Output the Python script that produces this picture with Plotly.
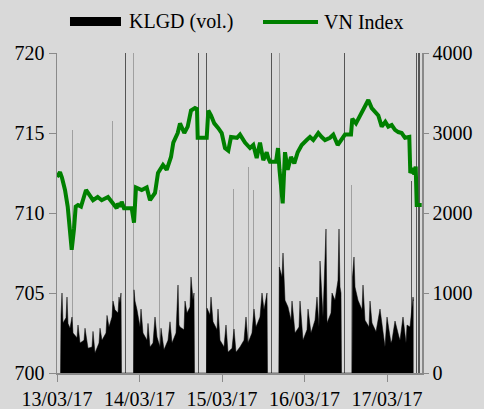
import plotly.graph_objects as go

# ---- Data (time index: one unit per intraday sample slot) ----
tick_labels = ["13/03/17", "14/03/17", "15/03/17", "16/03/17", "17/03/17"]
tick_pos = [0, 82.5, 165, 247.5, 330]

# VN Index intraday
vn_t = [0, 3, 5, 8, 10.7, 13, 14.7, 17, 18.7, 21, 24, 29, 31.3, 36, 40.7, 44.7, 51, 55, 59.7,
        61, 63, 64.7, 67, 74.7, 77, 79, 84.7, 89.7, 93, 98, 101, 106, 109.7, 114, 116.3, 120.7,
        123, 127.3, 130.7, 134, 138, 140, 140.7, 149.7, 151.3, 154, 157.3, 161.3, 164.7, 168,
        171.3, 174, 180, 183, 188, 193, 196.3, 199.7, 203, 206.3, 209.7, 211.3, 213, 219, 221,
        222.5, 225.7, 228, 230.7, 234, 237.3, 240.7, 244.7, 249.7, 253, 256.3, 261.3, 264.7,
        268, 273, 276.3, 280.7, 284.7, 288, 294, 295.3, 299, 300.7, 304.7, 308, 311.3, 314.7,
        318, 321.3, 324.7, 328.3, 331.3, 334.7, 338, 341.3, 344.7, 348, 352.3, 353.3, 355.7,
        357.3, 358.7, 359.7, 364.7]
vn_val = [712.25, 712.56, 712.2, 711.44, 710.4, 709.0, 707.7, 709.0, 710.4, 710.5, 710.4,
          711.44, 711.25, 710.8, 711.0, 710.8, 711.0, 710.7, 710.3,
          710.6, 710.4, 710.7, 710.3, 710.3, 709.4, 711.6, 711.44, 711.6, 710.8, 711.25, 712.5,
          713.0, 712.7, 713.5, 714.4, 715.0, 715.6, 715.0, 715.4, 716.4, 716.56, 716.5, 714.7,
          714.7, 716.4, 716.1, 715.6, 715.3, 715.0, 714.06, 713.9, 714.75, 714.7, 714.9, 714.4,
          714.06, 714.25, 713.44, 714.4, 713.3, 713.8, 713.44, 713.2, 713.2, 714.06, 712.7,
          710.6, 713.8, 712.7, 713.5, 713.1, 713.8, 714.25, 714.56, 714.75, 714.56, 715.0,
          714.75, 714.56, 714.7, 714.9, 714.25, 714.56, 714.9, 714.9, 715.9, 715.6, 715.8,
          716.25, 716.75, 717.06, 716.56, 716.3, 716.1, 715.4, 715.7, 715.4, 715.5, 715.2,
          715.06, 715.0, 714.7, 714.75, 712.5, 712.8, 712.4, 712.9, 710.5, 710.5]

# Trading volume (KLGD), continuous sessions
vol_t = [3.5, 4, 5, 6, 9, 10, 11, 13, 15, 16, 20, 21, 23, 27, 28, 31, 35, 36, 38, 42, 43, 45,
         49, 50, 52, 55, 56, 58, 61, 62, 63, 64, 64.5,
         76.5, 77, 78, 80, 83, 84, 86, 90, 91, 93, 96, 98, 100, 103, 104, 107, 111, 113, 115,
         119, 121, 122, 123, 127, 128, 130, 133, 134, 136, 137, 137.5,
         149.5, 150, 153, 154, 156, 160, 161, 163, 167, 169, 171, 175, 177, 179, 183, 187, 189,
         191, 195, 197, 199, 203, 205, 207, 210, 210.5,
         221.8, 222.3, 225, 226, 228, 231, 234, 235, 238, 242, 243, 246, 250, 251, 254, 258,
         260, 262, 263, 266, 269, 270, 274, 275, 278, 281, 282, 283, 284, 284.5,
         295, 295.5, 297, 298, 301, 305, 306, 308, 312, 313, 315, 319, 323, 327, 328, 330, 334,
         335, 338, 342, 343, 346, 349, 350, 353, 355, 356, 356.5]
vol_val = [0, 725, 1000, 625, 690, 950, 620, 560, 700, 500, 440, 600, 375, 410, 560, 310, 325,
           520, 250, 375, 560, 410, 500, 720, 575, 700, 900, 790, 750, 950, 875, 1000, 0,
           0, 1040, 900, 790, 575, 800, 500, 410, 620, 325, 375, 700, 450, 325, 560, 290, 410,
           640, 375, 500, 1100, 600, 575, 540, 900, 750, 825, 1200, 910, 1000, 0,
           0, 810, 725, 950, 640, 540, 800, 410, 325, 600, 260, 310, 550, 260, 325, 410, 700,
           375, 500, 800, 575, 700, 1000, 790, 1000, 0,
           0, 1325, 1200, 1500, 910, 825, 660, 900, 500, 575, 900, 410, 540, 800, 500, 660,
           950, 575, 1400, 700, 1800, 625, 750, 1000, 910, 1160, 1800, 1075, 1000, 0,
           0, 1200, 1450, 1075, 910, 790, 1100, 660, 575, 900, 625, 515, 800, 410, 325, 700,
           375, 410, 650, 450, 410, 700, 375, 600, 575, 825, 950, 900, 0]

# Isolated large prints (put-through / ATC)
big_t = [68.5, 141.2, 149.7, 214.5, 287.3, 359.7, 362, 354.7]
big_val = [5000, 5000, 5000, 5000, 5000, 5000, 5000, 2400]
thin_t = [15.3, 55.5, 76.3, 102.3, 176.5, 191.3, 196.3, 222.3, 294.7, 329]
thin_val = [3040, 3150, 5000, 2290, 2300, 2570, 2290, 5000, 2350, 2390]

BG = "#d9d9d9"
AX = "#8a8a8a"
FONT = "Liberation Serif"

fig = go.Figure()

fig.add_trace(go.Bar(x=thin_t, y=thin_val, width=0.8, marker=dict(color="#a0a0a0", line=dict(width=0)),
                     showlegend=False, yaxis="y", hoverinfo="skip"))
fig.add_trace(go.Scatter(x=vol_t, y=vol_val, mode="lines", fill="tozeroy",
                         fillcolor="#000000", line=dict(color="#000000", width=0.5),
                         name="KLGD (vol.)", showlegend=False, yaxis="y"))
fig.add_trace(go.Bar(x=big_t, y=big_val, width=1.3, marker=dict(color="#555555", line=dict(width=0)),
                     showlegend=False, yaxis="y", hoverinfo="skip"))
fig.add_trace(go.Scatter(x=vn_t, y=vn_val, mode="lines", line=dict(color="#008000", width=4),
                         name="VN Index", showlegend=False, yaxis="y2"))

# Manual legend (paper coords relative to plot area)
fig.add_shape(type="rect", xref="paper", yref="paper", x0=0.0356, x1=0.1753, y0=1.084, y1=1.1125,
              fillcolor="#000000", line=dict(width=0))
fig.add_shape(type="line", xref="paper", yref="paper", x0=0.5644, x1=0.7151, y0=1.097, y1=1.097,
              line=dict(color="#008000", width=4))
fig.add_annotation(text="KLGD (vol.)", xref="paper", yref="paper", x=0.1918, y=1.097,
                   xanchor="left", yanchor="middle", showarrow=False,
                   font=dict(family=FONT, size=20, color="#000000"))
fig.add_annotation(text="VN Index", xref="paper", yref="paper", x=0.726, y=1.097,
                   xanchor="left", yanchor="middle", showarrow=False,
                   font=dict(family=FONT, size=20, color="#000000"))

fig.update_layout(
    width=484, height=409,
    margin=dict(l=57, r=62, t=53, b=36, autoexpand=False),
    paper_bgcolor=BG, plot_bgcolor=BG,
    font=dict(family=FONT, size=20, color="#000000"),
    bargap=0,
    xaxis=dict(range=[0, 365], tickvals=tick_pos, ticktext=tick_labels, ticks="outside",
               ticklen=7, tickcolor=AX, showline=True, linecolor=AX, linewidth=1.5,
               showgrid=False, zeroline=False, automargin=False),
    yaxis=dict(side="right", range=[0, 4000], dtick=1000, ticks="outside", ticklen=5,
               tickcolor=AX, showline=True, linecolor=AX, linewidth=1.5, showgrid=False,
               zeroline=False, automargin=False),
    yaxis2=dict(side="left", overlaying="y", range=[700, 720], dtick=5, ticks="outside",
                ticklen=7, tickcolor=AX, showline=True, linecolor=AX, linewidth=1.5,
                showgrid=False, zeroline=False, automargin=False),
)

fig.write_html(
    "out.html",
    config={"displayModeBar": False, "staticPlot": True},
    post_script="document.body.style.margin='0';document.body.style.overflow='hidden';"
                "document.body.style.background='#d9d9d9';",
)
